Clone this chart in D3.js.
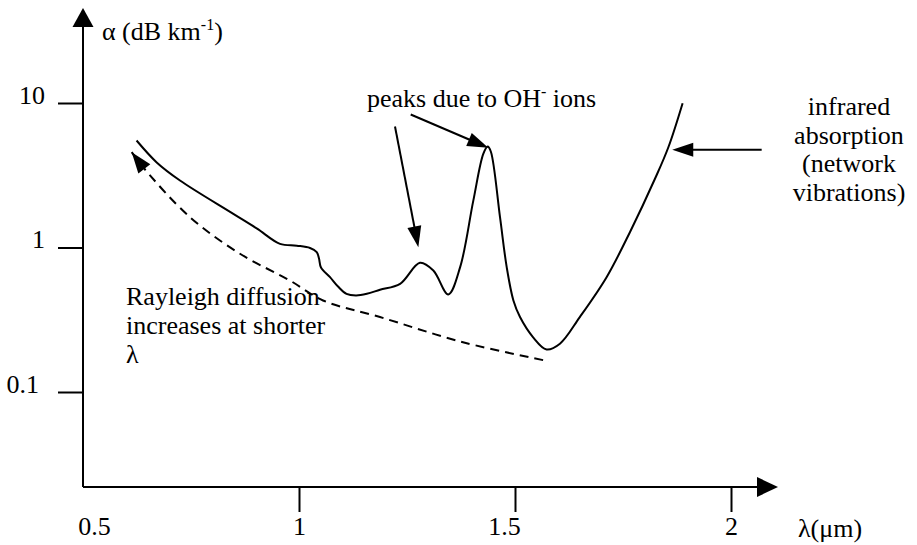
<!DOCTYPE html>
<html><head><meta charset="utf-8"><script src="https://cdn.jsdelivr.net/npm/d3@7"></script></head>
<body style="margin:0">
<svg id="chart" width="917" height="545"></svg>
<script>
// ---- data ----
const lossLambda = [0.624, 0.6706, 0.7245, 0.848, 0.903, 0.956, 0.995, 1.0255, 1.041, 1.0463, 1.0509, 1.0718, 1.0903, 1.110, 1.1319, 1.157, 1.1875, 1.234, 1.280, 1.311, 1.3456, 1.373, 1.4035, 1.4266, 1.4368, 1.4442, 1.4653, 1.4808, 1.4963, 1.5116, 1.542, 1.573, 1.604, 1.650, 1.712, 1.766, 1.824, 1.855, 1.888];
const lossAlpha  = [5.50, 3.88, 2.91, 1.71, 1.35, 1.06, 1.03, 0.992, 0.928, 0.839, 0.727, 0.623, 0.537, 0.478, 0.466, 0.478, 0.51, 0.561, 0.784, 0.693, 0.473, 0.731, 2.11, 4.45, 5.0, 4.6, 1.62, 0.731, 0.43, 0.33, 0.239, 0.197, 0.216, 0.330, 0.623, 1.276, 2.99, 4.94, 9.97];

const rayleighLambda = [0.6127, 0.6389, 0.7477, 0.8634, 0.979, 1.0556, 1.1875, 1.3796, 1.5787];
const rayleighAlpha  = [4.57, 3.60, 1.62, 0.905, 0.591, 0.43, 0.33, 0.221, 0.163];

const xTickValues = [0.5, 1, 1.5, 2];
const xTickLabels = ["0.5", "1", "1.5", "2"];
const yTickValues = [10, 1, 0.1];
const yTickLabels = ["10", "1", "0.1"];

// annotation arrows: [fromLambda, fromAlpha, toLambda, toAlpha]
const ohArrow1 = [1.2222, 6.88, 1.2762, 1.005];
const ohArrow2 = [1.2586, 8.33, 1.4382, 4.9];
const irArrow  = [2.071, 4.75, 1.864, 4.75];

// ---- drawing ----
const FS = 26;
const svg = d3.select("#chart");
const x = d3.scaleLinear().domain([0.5, 2]).range([83, 731]);
const y = d3.scaleLog().domain([0.1, 10]).range([392, 103]);

const axisY0 = 487;
const axisX0 = x(0.5);

function arrowHead(g, x1, y1, x2, y2, len, half) {
  const dx = x2 - x1, dy = y2 - y1, L = Math.hypot(dx, dy);
  const ux = dx / L, uy = dy / L;
  const bx = x2 - ux * len, by = y2 - uy * len;
  g.append("path")
    .attr("d", `M${x2},${y2}L${bx - uy * half},${by + ux * half}L${bx + uy * half},${by - ux * half}Z`)
    .attr("fill", "#000");
}
function arrow(g, a, len, half) {
  const x1 = x(a[0]), y1 = y(a[1]), x2 = x(a[2]), y2 = y(a[3]);
  const dx = x2 - x1, dy = y2 - y1, L = Math.hypot(dx, dy);
  g.append("line")
    .attr("x1", x1).attr("y1", y1)
    .attr("x2", x2 - dx / L * (len - 2)).attr("y2", y2 - dy / L * (len - 2))
    .attr("stroke", "#000").attr("stroke-width", 2);
  arrowHead(g, x1, y1, x2, y2, len, half);
}
function styleText(sel) {
  return sel.attr("font-size", FS).attr("fill", "#000").style("font-family", d => `"Liberation Serif"`);
}

// axis lines with arrowheads
const axes = svg.append("g");
axes.append("line").attr("x1", axisX0).attr("y1", axisY0).attr("x2", 760).attr("y2", axisY0)
  .attr("stroke", "#000").attr("stroke-width", 2);
arrowHead(axes, axisX0, axisY0, 778, axisY0, 21, 10);
axes.append("line").attr("x1", axisX0).attr("y1", axisY0).attr("x2", axisX0).attr("y2", 25)
  .attr("stroke", "#000").attr("stroke-width", 2);
arrowHead(axes, axisX0, axisY0, axisX0, 8, 19, 10.5);

// x ticks via d3 axis
const xAxis = d3.axisBottom(x).tickValues(xTickValues)
  .tickFormat((d, i) => xTickLabels[i]).tickSize(25).tickPadding(5);
const gx = svg.append("g").attr("transform", `translate(0,${axisY0})`).call(xAxis);
gx.attr("font-family", null);
gx.select(".domain").remove();
gx.selectAll(".tick line").attr("stroke", "#000").attr("stroke-width", 2)
  .attr("opacity", d => d === 0.5 ? 0 : 1);
styleText(gx.selectAll(".tick text"))
  .attr("dx", d => d === 0.5 ? 11 : (d === 1.5 ? -11 : 0));

// y ticks via d3 axis
const yAxis = d3.axisLeft(y).tickValues(yTickValues)
  .tickFormat((d, i) => yTickLabels[i]).tickSize(25).tickPadding(13);
const gy = svg.append("g").attr("transform", `translate(${axisX0},0)`).call(yAxis);
gy.attr("font-family", null);
gy.select(".domain").remove();
gy.selectAll(".tick line").attr("stroke", "#000").attr("stroke-width", 2);
styleText(gy.selectAll(".tick text"))
  .attr("dy", "0em")
  .attr("dx", d => d === 0.1 ? -6 : 0);

// axis titles
const yTitle = styleText(svg.append("text").attr("x", 102).attr("y", 40));
yTitle.append("tspan").text("α (dB km");
yTitle.append("tspan").attr("font-size", 16).attr("dy", -10).text("-1");
yTitle.append("tspan").attr("dy", 10).text(")");

styleText(svg.append("text").attr("x", 798).attr("y", 537)).text("λ(μm)");

// loss curve
const lossPts = lossLambda.map((l, i) => [x(l), y(lossAlpha[i])]);
svg.append("path")
  .attr("d", d3.line().curve(d3.curveCatmullRom.alpha(0.5))(lossPts))
  .attr("fill", "none").attr("stroke", "#000").attr("stroke-width", 2);

// Rayleigh dashed curve with arrow at the short-wavelength end
const rayPts = rayleighLambda.map((l, i) => [x(l), y(rayleighAlpha[i])]);
svg.append("path")
  .attr("d", d3.line().curve(d3.curveCatmullRom.alpha(0.5))(rayPts))
  .attr("fill", "none").attr("stroke", "#000").attr("stroke-width", 2)
  .attr("stroke-dasharray", "9,6").attr("stroke-dashoffset", -14);
arrowHead(svg, rayPts[1][0], rayPts[1][1], rayPts[0][0], rayPts[0][1], 21, 7.5);

// annotation arrows
const ann = svg.append("g");
arrow(ann, ohArrow1, 21, 7);
arrow(ann, ohArrow2, 21, 7);
arrow(ann, irArrow, 21, 7);

// annotation texts
const oh = styleText(svg.append("text").attr("x", 367).attr("y", 107));
oh.append("tspan").text("peaks due to OH");
oh.append("tspan").attr("font-size", 16).attr("dy", -10).text("-");
oh.append("tspan").attr("dy", 10).text(" ions");

const irLines = ["infrared", "absorption", "(network", "vibrations)"];
styleText(svg.append("g").selectAll("text").data(irLines).join("text"))
  .attr("x", 849).attr("y", (d, i) => 115 + i * 28.5)
  .attr("text-anchor", "middle").text(d => d);

const rayLines = ["Rayleigh diffusion", "increases at shorter", "λ"];
styleText(svg.append("g").selectAll("text").data(rayLines).join("text"))
  .attr("x", 126).attr("y", (d, i) => 305 + i * 29)
  .text(d => d);
</script>
</body></html>
